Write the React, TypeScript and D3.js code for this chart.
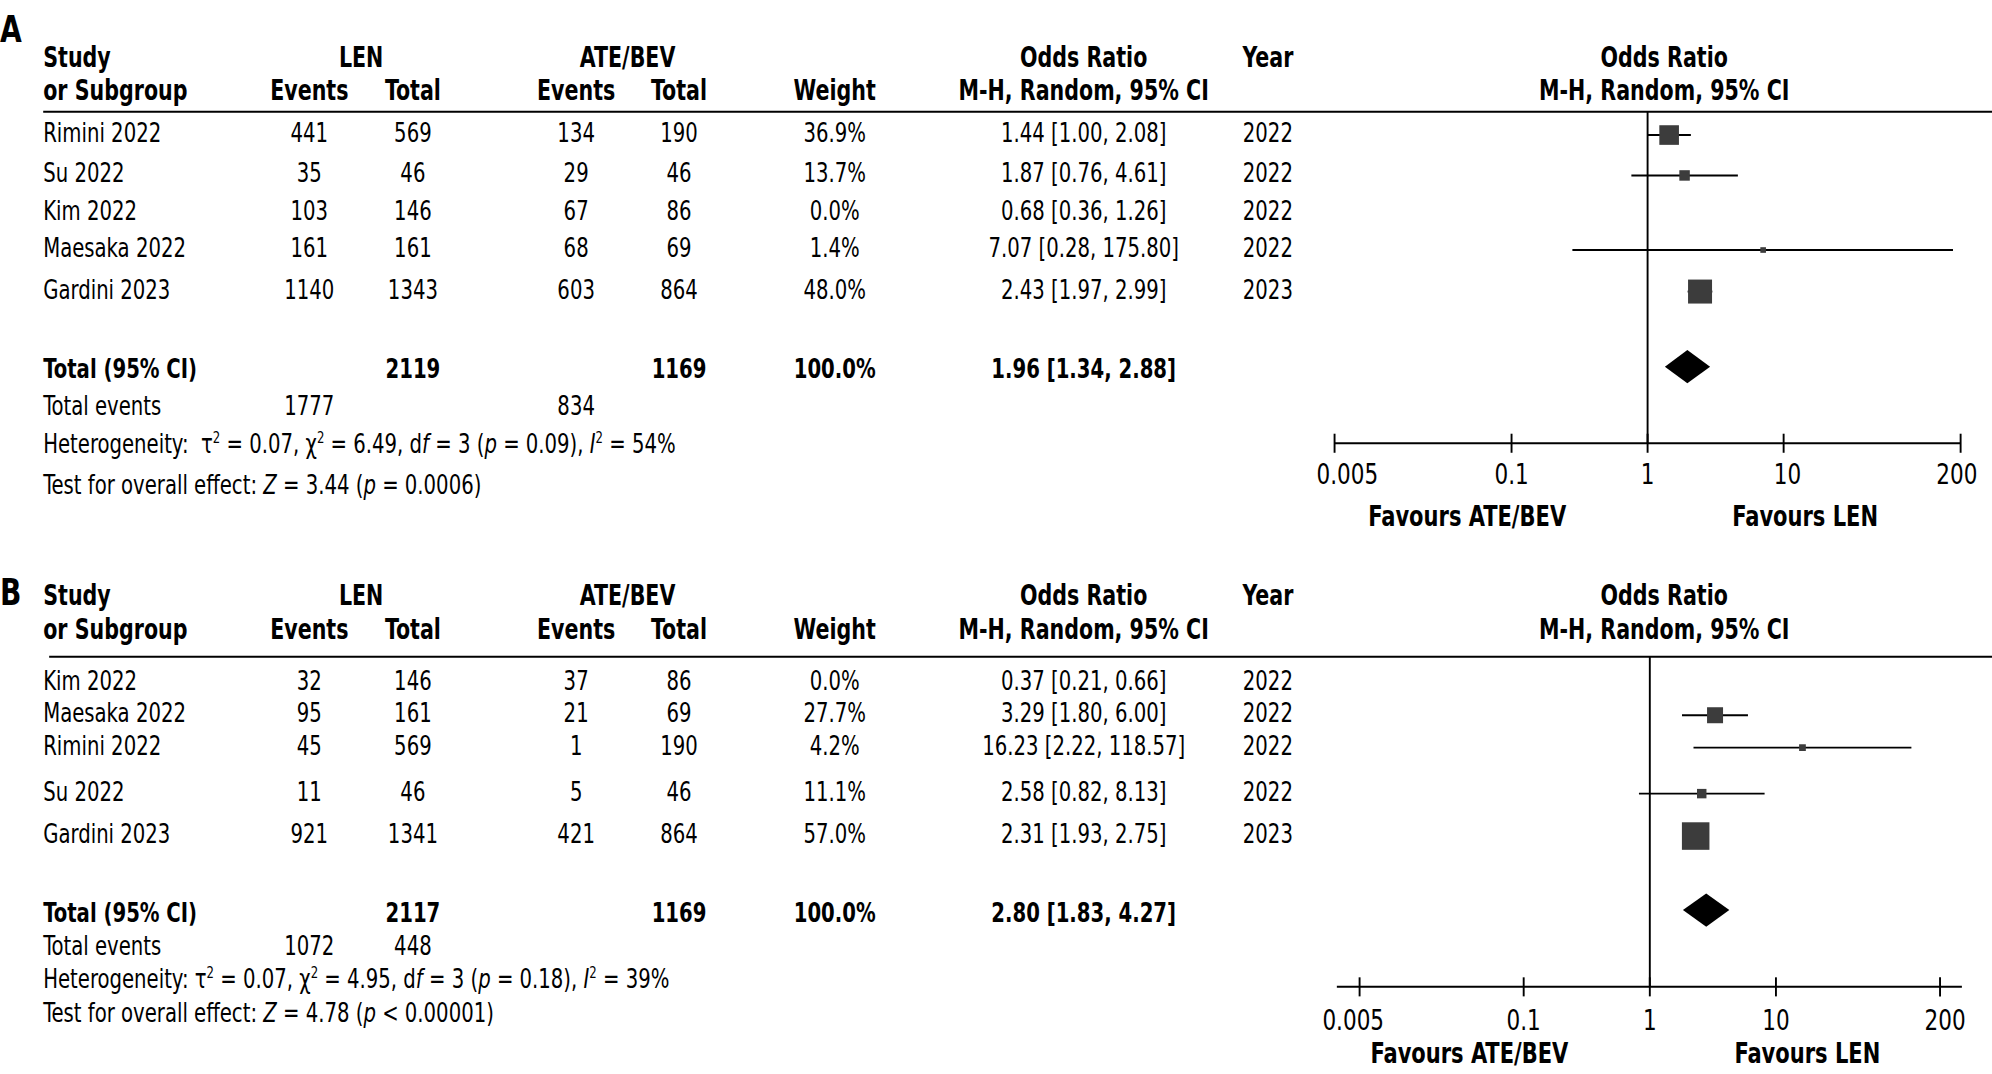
import * as d3 from "d3";

const FONT = "'DejaVu Sans Condensed','DejaVu Sans',sans-serif";
const SX = 0.82; // horizontal squeeze to get a condensed look

// ---- panel A data ----
const studiesA = ["Rimini 2022", "Su 2022", "Kim 2022", "Maesaka 2022", "Gardini 2023"];
const lenEventsA = [441, 35, 103, 161, 1140];
const lenTotalA = [569, 46, 146, 161, 1343];
const ateEventsA = [134, 29, 67, 68, 603];
const ateTotalA = [190, 46, 86, 69, 864];
const weightA = [36.9, 13.7, 0.0, 1.4, 48.0];
const orA = [1.44, 1.87, 0.68, 7.07, 2.43];
const loA = [1.0, 0.76, 0.36, 0.28, 1.97];
const hiA = [2.08, 4.61, 1.26, 175.8, 2.99];
const yearA = [2022, 2022, 2022, 2022, 2023];
const totalA = { lenTotal: 2119, ateTotal: 1169, or: 1.96, lo: 1.34, hi: 2.88, lenEvents: 1777, ateEvents: 834 };
const hetA = { tau2: "0.07", chi2: "6.49", df: 3, p: "= 0.09", i2: 54, z: "3.44", pz: "= 0.0006", sep: "  " };

// ---- panel B data ----
const studiesB = ["Kim 2022", "Maesaka 2022", "Rimini 2022", "Su 2022", "Gardini 2023"];
const lenEventsB = [32, 95, 45, 11, 921];
const lenTotalB = [146, 161, 569, 46, 1341];
const ateEventsB = [37, 21, 1, 5, 421];
const ateTotalB = [86, 69, 190, 46, 864];
const weightB = [0.0, 27.7, 4.2, 11.1, 57.0];
const orB = [0.37, 3.29, 16.23, 2.58, 2.31];
const loB = [0.21, 1.8, 2.22, 0.82, 1.93];
const hiB = [0.66, 6.0, 118.57, 8.13, 2.75];
const yearB = [2022, 2022, 2022, 2022, 2023];
const totalB = { lenTotal: 2117, ateTotal: 1169, or: 2.8, lo: 1.83, hi: 4.27, lenEvents: 1072, ateEvents: 448 };
const hetB = { tau2: "0.07", chi2: "4.95", df: 3, p: "= 0.18", i2: 39, z: "4.78", pz: "< 0.00001", sep: " " };

const tickValues = [0.005, 0.1, 1, 10, 200];
const tickLabels = ["0.005", "0.1", "1", "10", "200"];

// layout (in a 1568-wide coordinate space, scaled up by the viewBox)
const COL = { study: 34, lenEv: 243.5, lenTot: 325, ateEv: 453.5, ateTot: 534.5, weight: 657, or: 853, year: 998, plotHead: 1310 };

const layoutA = {
  letter: 32.7, head1: 52.9, head2: 78.7, rule: 88, ruleX0: 34,
  rows: [111.8, 143.6, 172.9, 202.3, 235],
  total: 297.6, events: 326.4, het: 356.4, test: 389,
  axis: 348.9, tickLab: 381, favours: 414,
  plot: [1050.5, 1543.3], axisExt: [1050.5, 1543.3],
  labelNudge: [10, 0, 0, 3, -3],
};
const layoutB = {
  letter: 476, head1: 476, head2: 502.8, rule: 517, ruleX0: 38.7,
  rows: [543, 568.5, 594, 630.2, 663.6],
  total: 725.4, events: 752.1, het: 777.6, test: 804.4,
  axis: 776.8, tickLab: 811, favours: 837,
  plot: [1070.2, 1527.1], axisExt: [1052.3, 1544.3],
  labelNudge: [-5, 0, 0, 0, 4],
};

const boxSize = d3.scaleLinear().domain([0, 60]).range([4, 22.6]);
const fmt2 = d3.format(".2f");
const fmtOR = (o: number, l: number, h: number) => `${fmt2(o)} [${fmt2(l)}, ${fmt2(h)}]`;

function T({ x, y, anchor, sx = SX, children, ...rest }: any) {
  return (
    <text transform={`translate(${x},${y}) scale(${sx},1)`} textAnchor={anchor} {...rest}>
      {children}
    </text>
  );
}

type Seg = { t: string; it?: boolean; sup?: boolean };

function Rich({ x, y, segs, size }: { x: number; y: number; segs: Seg[]; size: number }) {
  let raised = false;
  return (
    <T x={x} y={y} fontSize={size} style={{ whiteSpace: "pre" }}>
      {segs.map((s, i) => {
        let dy = 0;
        if (s.sup && !raised) { dy = -7.5; raised = true; }
        else if (!s.sup && raised) { dy = 7.5; raised = false; }
        return (
          <tspan key={i} dy={dy} fontSize={s.sup ? 12.5 : undefined} fontStyle={s.it ? "italic" : undefined}>
            {s.t}
          </tspan>
        );
      })}
    </T>
  );
}

function Panel(props: any) {
  const { letter, L, studies, lenEv, lenTot, ateEv, ateTot, weight, or, lo, hi, year, total, het } = props;
  const x = d3.scaleLog().domain([0.005, 200]).range(L.plot);
  const x1 = x(1);
  const hetSegs: Seg[] = [
    { t: `Heterogeneity:${het.sep}τ` }, { t: "2", sup: true }, { t: ` = ${het.tau2}, χ` }, { t: "2", sup: true },
    { t: ` = ${het.chi2}, d` }, { t: "f", it: true }, { t: ` = ${het.df} (` }, { t: "p", it: true },
    { t: ` ${het.p}), ` }, { t: "I", it: true }, { t: "2", sup: true }, { t: ` = ${het.i2}%` },
  ];
  const testSegs: Seg[] = [
    { t: "Test for overall effect: " }, { t: "Z", it: true }, { t: ` = ${het.z} (` }, { t: "p", it: true }, { t: ` ${het.pz})` },
  ];
  const dy = L.total - 9;
  return (
    <g>
      <T x={0} y={L.letter} fontSize={30} fontWeight="bold">{letter}</T>
      {/* header */}
      <g fontWeight="bold" fontSize={22}>
        <T x={COL.study} y={L.head1}>Study</T>
        <T x={COL.study} y={L.head2}>or Subgroup</T>
        <T x={(COL.lenEv + COL.lenTot) / 2} y={L.head1} anchor="middle">LEN</T>
        <T x={COL.lenEv} y={L.head2} anchor="middle">Events</T>
        <T x={COL.lenTot} y={L.head2} anchor="middle">Total</T>
        <T x={(COL.ateEv + COL.ateTot) / 2} y={L.head1} anchor="middle">ATE/BEV</T>
        <T x={COL.ateEv} y={L.head2} anchor="middle">Events</T>
        <T x={COL.ateTot} y={L.head2} anchor="middle">Total</T>
        <T x={COL.weight} y={L.head2} anchor="middle">Weight</T>
        <T x={COL.or} y={L.head1} anchor="middle">Odds Ratio</T>
        <T x={COL.or} y={L.head2} anchor="middle">M-H, Random, 95% CI</T>
        <T x={COL.year} y={L.head1} anchor="middle">Year</T>
        <T x={COL.plotHead} y={L.head1} anchor="middle">Odds Ratio</T>
        <T x={COL.plotHead} y={L.head2} anchor="middle">M-H, Random, 95% CI</T>
      </g>
      <line x1={L.ruleX0} x2={1568} y1={L.rule} y2={L.rule} stroke="#000" strokeWidth={1.6} />
      {/* study rows */}
      <g fontSize={21}>
        {studies.map((s: string, i: number) => {
          const y = L.rows[i];
          return (
            <g key={s}>
              <T x={COL.study} y={y}>{s}</T>
              <T x={COL.lenEv} y={y} anchor="middle">{lenEv[i]}</T>
              <T x={COL.lenTot} y={y} anchor="middle">{lenTot[i]}</T>
              <T x={COL.ateEv} y={y} anchor="middle">{ateEv[i]}</T>
              <T x={COL.ateTot} y={y} anchor="middle">{ateTot[i]}</T>
              <T x={COL.weight} y={y} anchor="middle">{`${weight[i].toFixed(1)}%`}</T>
              <T x={COL.or} y={y} anchor="middle">{fmtOR(or[i], lo[i], hi[i])}</T>
              <T x={COL.year} y={y} anchor="middle">{year[i]}</T>
            </g>
          );
        })}
      </g>
      {/* totals */}
      <g fontSize={21} fontWeight="bold">
        <T x={COL.study} y={L.total}>Total (95% CI)</T>
        <T x={COL.lenTot} y={L.total} anchor="middle">{total.lenTotal}</T>
        <T x={COL.ateTot} y={L.total} anchor="middle">{total.ateTotal}</T>
        <T x={COL.weight} y={L.total} anchor="middle">100.0%</T>
        <T x={COL.or} y={L.total} anchor="middle">{fmtOR(total.or, total.lo, total.hi)}</T>
      </g>
      <g fontSize={21}>
        <T x={COL.study} y={L.events}>Total events</T>
        <T x={COL.lenEv} y={L.events} anchor="middle">{total.lenEvents}</T>
        <T x={letter === "A" ? COL.ateEv : COL.lenTot} y={L.events} anchor="middle">{total.ateEvents}</T>
      </g>
      <Rich x={COL.study} y={L.het} segs={hetSegs} size={21} />
      <Rich x={COL.study} y={L.test} segs={testSegs} size={21} />
      {/* forest plot */}
      <line x1={x1} x2={x1} y1={L.rule} y2={L.axis} stroke="#000" strokeWidth={1.5} />
      {studies.map((s: string, i: number) => {
        if (weight[i] <= 0) return null;
        const y = L.rows[i] - 5.5;
        const b = boxSize(weight[i]);
        return (
          <g key={s}>
            <line x1={x(lo[i])} x2={x(hi[i])} y1={y} y2={y} stroke="#000" strokeWidth={1.5} />
            <rect x={x(or[i]) - b / 2} y={y - b / 2} width={b} height={b} fill="#3c3c3c" />
          </g>
        );
      })}
      <polygon
        points={`${x(total.lo)},${dy} ${x(total.or)},${dy - 13} ${x(total.hi)},${dy} ${x(total.or)},${dy + 13}`}
        fill="#000"
      />
      <line x1={L.axisExt[0]} x2={L.axisExt[1]} y1={L.axis} y2={L.axis} stroke="#000" strokeWidth={1.6} />
      {tickValues.map((t, i) => (
        <g key={t}>
          <line x1={x(t)} x2={x(t)} y1={L.axis - 7.5} y2={L.axis + 7.5} stroke="#000" strokeWidth={1.5} />
          <T x={x(t) + L.labelNudge[i]} y={L.tickLab} fontSize={23} anchor="middle">{tickLabels[i]}</T>
        </g>
      ))}
      <g fontSize={23} fontWeight="bold">
        <T x={x1 - 142} y={L.favours} anchor="middle" sx={0.8}>Favours ATE/BEV</T>
        <T x={x1 + 124} y={L.favours} anchor="middle" sx={0.8}>Favours LEN</T>
      </g>
    </g>
  );
}

export default function App() {
  return (
    <svg
      width={1992}
      height={1074}
      viewBox="0 0 1568 845.4"
      style={{ position: "absolute", left: 0, top: 0, background: "#fff" }}
      fontFamily={FONT}
      fill="#000"
    >
      <rect x={0} y={0} width={1568} height={845.4} fill="#fff" />
      <Panel
        letter="A" L={layoutA} studies={studiesA} lenEv={lenEventsA} lenTot={lenTotalA}
        ateEv={ateEventsA} ateTot={ateTotalA} weight={weightA} or={orA} lo={loA} hi={hiA}
        year={yearA} total={totalA} het={hetA}
      />
      <Panel
        letter="B" L={layoutB} studies={studiesB} lenEv={lenEventsB} lenTot={lenTotalB}
        ateEv={ateEventsB} ateTot={ateTotalB} weight={weightB} or={orB} lo={loB} hi={hiB}
        year={yearB} total={totalB} het={hetB}
      />
    </svg>
  );
}
